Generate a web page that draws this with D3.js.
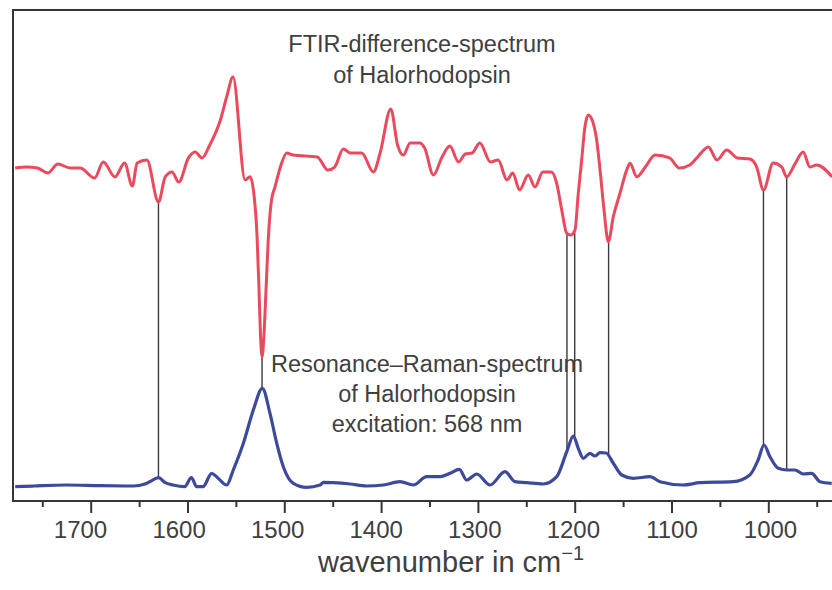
<!DOCTYPE html>
<html>
<head>
<meta charset="utf-8">
<script src="https://cdn.jsdelivr.net/npm/d3@7/dist/d3.min.js"></script>
<style>
  html, body { margin: 0; padding: 0; background: #ffffff; }
  svg { display: block; }
  text { font-family: "Liberation Sans", Arial, Helvetica, sans-serif; fill: #404040; }
</style>
</head>
<body>
<svg id="chart" width="832" height="590"></svg>
<script>
// ---------------- DATA ----------------
// FTIR difference spectrum (wavenumber in cm^-1, arbitrary ΔA units)
const ftirWavenumber = [1778,1766,1755,1744,1734,1721,1711,1696,1687,1675,1665,1657,1652,1642,1630,1623,1616,1609,1599,1592,1585,1577,1566,1559.5,1553,1540.5,1535.4,1531.3,1528.2,1526.1,1524.6,1523,1521,1518.9,1516.3,1513.2,1509.6,1503.4,1497.5,1491,1466,1455,1448,1439,1432,1420,1408,1401,1390,1383,1377,1370,1360,1355,1346,1337,1329,1320,1313,1306,1298,1287,1279,1270,1264,1257,1248,1241,1233,1224,1218.6,1213.4,1208.2,1204.1,1199.7,1196.3,1192.8,1189.4,1185.9,1181.4,1177.3,1173.8,1169.7,1165.3,1160.1,1153.2,1146.3,1142.8,1135.9,1127,1117,1102,1092,1081,1073,1062,1053,1043,1032,1019,1012,1005,995,986,981,972,964,957,950,934];
const ftirSignal     = [0,0.5,0,-2.6,2.1,0,0,-5.3,3.2,-4.7,2.6,-9.5,2.6,4.2,-17.9,-4.7,-2.1,-7.4,5.3,8.4,5.3,12.1,25.3,37.5,47.9,-6.3,-4.6,-14.2,-35.3,-64.2,-87.9,-99.5,-87.9,-64.2,-35.3,-16.8,-10,1.6,7.9,6.8,5.8,-1.1,0.5,10,7.9,7.9,-2.1,7.9,31.1,12.1,6.8,13.2,13.2,10.5,-3.7,5.8,11.6,3.2,7.4,7.9,13.2,3.2,4.2,-6.3,-2.6,-11.6,-3.7,-10,-2.1,-2.1,-8.1,-22.1,-34.4,-35.3,-32.6,-13.3,4.2,21.7,27.9,24.4,14.7,-1.1,-22.1,-38.8,-25.6,-13.3,-1.1,2.5,-4.6,0.5,6.8,5.3,0,1.6,5.8,11.1,4.2,9.5,5.3,4.7,0.5,-11.6,2.6,0.5,-4.7,2.6,8.4,0.5,1.6,-4.7];

// Resonance Raman spectrum (wavenumber in cm^-1, arbitrary intensity)
const ramanWavenumber = [1778,1759,1725,1690,1656,1644,1639,1630,1623,1615,1603,1596,1590.5,1584,1575,1570,1559.5,1552.7,1542.3,1532,1522.7,1514.8,1507.8,1501,1490.7,1477,1463,1459.7,1449.4,1432,1415,1397.7,1380.5,1366.7,1352.9,1339.1,1328.8,1319.2,1311.6,1301.2,1287.5,1272,1261.7,1249.6,1232.4,1218.6,1208.2,1201.4,1196.3,1191.1,1184.2,1179,1173.8,1167.6,1160.1,1151.4,1139.4,1122.3,1111.9,1087.8,1070.6,1036.2,1019.1,1010.5,1004.4,998.3,989.7,981,972.4,963.8,955.2,946.6,934.5];
const ramanIntensity  = [0.3,1,2,1.3,1,3,5.3,9.3,4.3,2,0.3,9.3,0.3,0.3,13.7,10.3,2,17,43.7,77,98.7,73.7,43.7,20.3,3.7,-0.3,2,4.7,4.3,3,1,2,5.3,2,10.3,10.3,13.7,17.7,7,13,2,15.3,5.3,4.3,3,10.3,35.3,51,38.7,28.7,33.7,31,34.3,34,23.7,12,8.7,10.3,5.3,2,4.3,5.3,12,27,42,30.3,18.7,17,17,13,13.7,5.3,3.7];

// Band correlations (vertical connector lines), cm^-1
const markerWavenumbers = [1630, 1523, 1208, 1200, 1165, 1005, 981];

// Axis ticks
const majorTicks = [1700, 1600, 1500, 1400, 1300, 1200, 1100, 1000];
const minorTicks = [1750, 1650, 1550, 1450, 1350, 1250, 1150, 1050, 950];

// Annotation texts
const ftirLabel  = ["FTIR-difference-spectrum", "of Halorhodopsin"];
const ramanLabel = ["Resonance\u2013Raman-spectrum", "of Halorhodopsin", "excitation: 568 nm"];
const axisTitle  = "wavenumber in cm";
const axisTitleSup = "\u22121";

// ---------------- CHART ----------------
const svg = d3.select("#chart");
const frame = { left: 13, top: 10, bottom: 501, right: 832 };

const x = d3.scaleLinear().domain([1700, 1000]).range([90.7, 768.3]);
// tick labels in the original figure sit on a slightly wider spacing than the tick marks
const xLabel = d3.scaleLinear().domain([1700, 1000]).range([80, 770]);
const yIR = d3.scaleLinear().domain([-100, 100]).range([358, -22]);
const yRa = d3.scaleLinear().domain([0, 100]).range([487, 387]);

const ftir = ftirWavenumber.map((w, i) => ({ w, v: ftirSignal[i] }));
const raman = ramanWavenumber.map((w, i) => ({ w, v: ramanIntensity[i] }));

function interp(data, w) {
  for (let i = 0; i < data.length - 1; i++) {
    const a = data[i], b = data[i + 1];
    if (w <= a.w && w >= b.w) {
      const t = (a.w - w) / (a.w - b.w);
      return a.v + t * (b.v - a.v);
    }
  }
  return 0;
}

svg.append("defs").append("clipPath").attr("id", "plotclip")
  .append("rect").attr("x", frame.left).attr("y", frame.top)
  .attr("width", frame.right - frame.left + 10).attr("height", frame.bottom - frame.top);

const plot = svg.append("g").attr("clip-path", "url(#plotclip)");

// connector lines
plot.selectAll("line.marker").data(markerWavenumbers).enter().append("line")
  .attr("class", "marker")
  .attr("x1", d => x(d)).attr("x2", d => x(d))
  .attr("y1", d => yIR(interp(ftir, d)))
  .attr("y2", d => yRa(interp(raman, d)))
  .attr("stroke", "#3a3a3a").attr("stroke-width", 1.4);

const lineIR = d3.line().x(d => x(d.w)).y(d => yIR(d.v)).curve(d3.curveMonotoneX);
const lineRa = d3.line().x(d => x(d.w)).y(d => yRa(d.v)).curve(d3.curveMonotoneX);

plot.append("path").datum(ftir).attr("d", lineIR)
  .attr("fill", "none").attr("stroke", "#ea4a5e").attr("stroke-width", 3)
  .attr("stroke-linejoin", "round");
plot.append("path").datum(raman).attr("d", lineRa)
  .attr("fill", "none").attr("stroke", "#3d4a9b").attr("stroke-width", 3.2)
  .attr("stroke-linejoin", "round");

// frame
svg.append("path")
  .attr("d", `M${frame.right + 5},${frame.top} H${frame.left} V${frame.bottom} H${frame.right + 5}`)
  .attr("fill", "none").attr("stroke", "#3b3434").attr("stroke-width", 2);

// axes (tick marks)
const axMajor = svg.append("g").attr("transform", `translate(0,${frame.bottom})`)
  .call(d3.axisBottom(x).tickValues(majorTicks).tickSize(12).tickFormat(""));
axMajor.select(".domain").remove();
axMajor.selectAll(".tick line").attr("stroke", "#3b3434").attr("stroke-width", 2);

const axMinor = svg.append("g").attr("transform", `translate(0,${frame.bottom})`)
  .call(d3.axisBottom(x).tickValues(minorTicks).tickSize(6).tickFormat(""));
axMinor.select(".domain").remove();
axMinor.selectAll(".tick line").attr("stroke", "#3b3434").attr("stroke-width", 2);

// tick labels
const axLabels = svg.append("g").attr("transform", `translate(0,${frame.bottom})`)
  .call(d3.axisBottom(xLabel).tickValues(majorTicks).tickSize(0).tickPadding(20).tickFormat(d3.format("d")));
axLabels.select(".domain").remove();
axLabels.selectAll(".tick line").remove();
axLabels.selectAll(".tick text")
  .attr("font-size", 24).attr("fill", "#404040")
  .attr("font-family", "'Liberation Sans', Arial, sans-serif");

// axis title
const t = svg.append("text").attr("x", 451).attr("y", 572)
  .attr("text-anchor", "middle").attr("font-size", 29);
t.append("tspan").text(axisTitle);
t.append("tspan").attr("dy", -12).attr("font-size", 20).text(axisTitleSup);

// annotations
svg.selectAll("text.ftir").data(ftirLabel).enter().append("text")
  .attr("class", "ftir")
  .attr("x", 422).attr("y", (d, i) => 52 + i * 31)
  .attr("text-anchor", "middle").attr("font-size", 23.5)
  .text(d => d);

svg.selectAll("text.raman").data(ramanLabel).enter().append("text")
  .attr("class", "raman")
  .attr("x", 427).attr("y", (d, i) => 372 + i * 30)
  .attr("text-anchor", "middle").attr("font-size", 23.5)
  .text(d => d);
</script>
</body>
</html>
